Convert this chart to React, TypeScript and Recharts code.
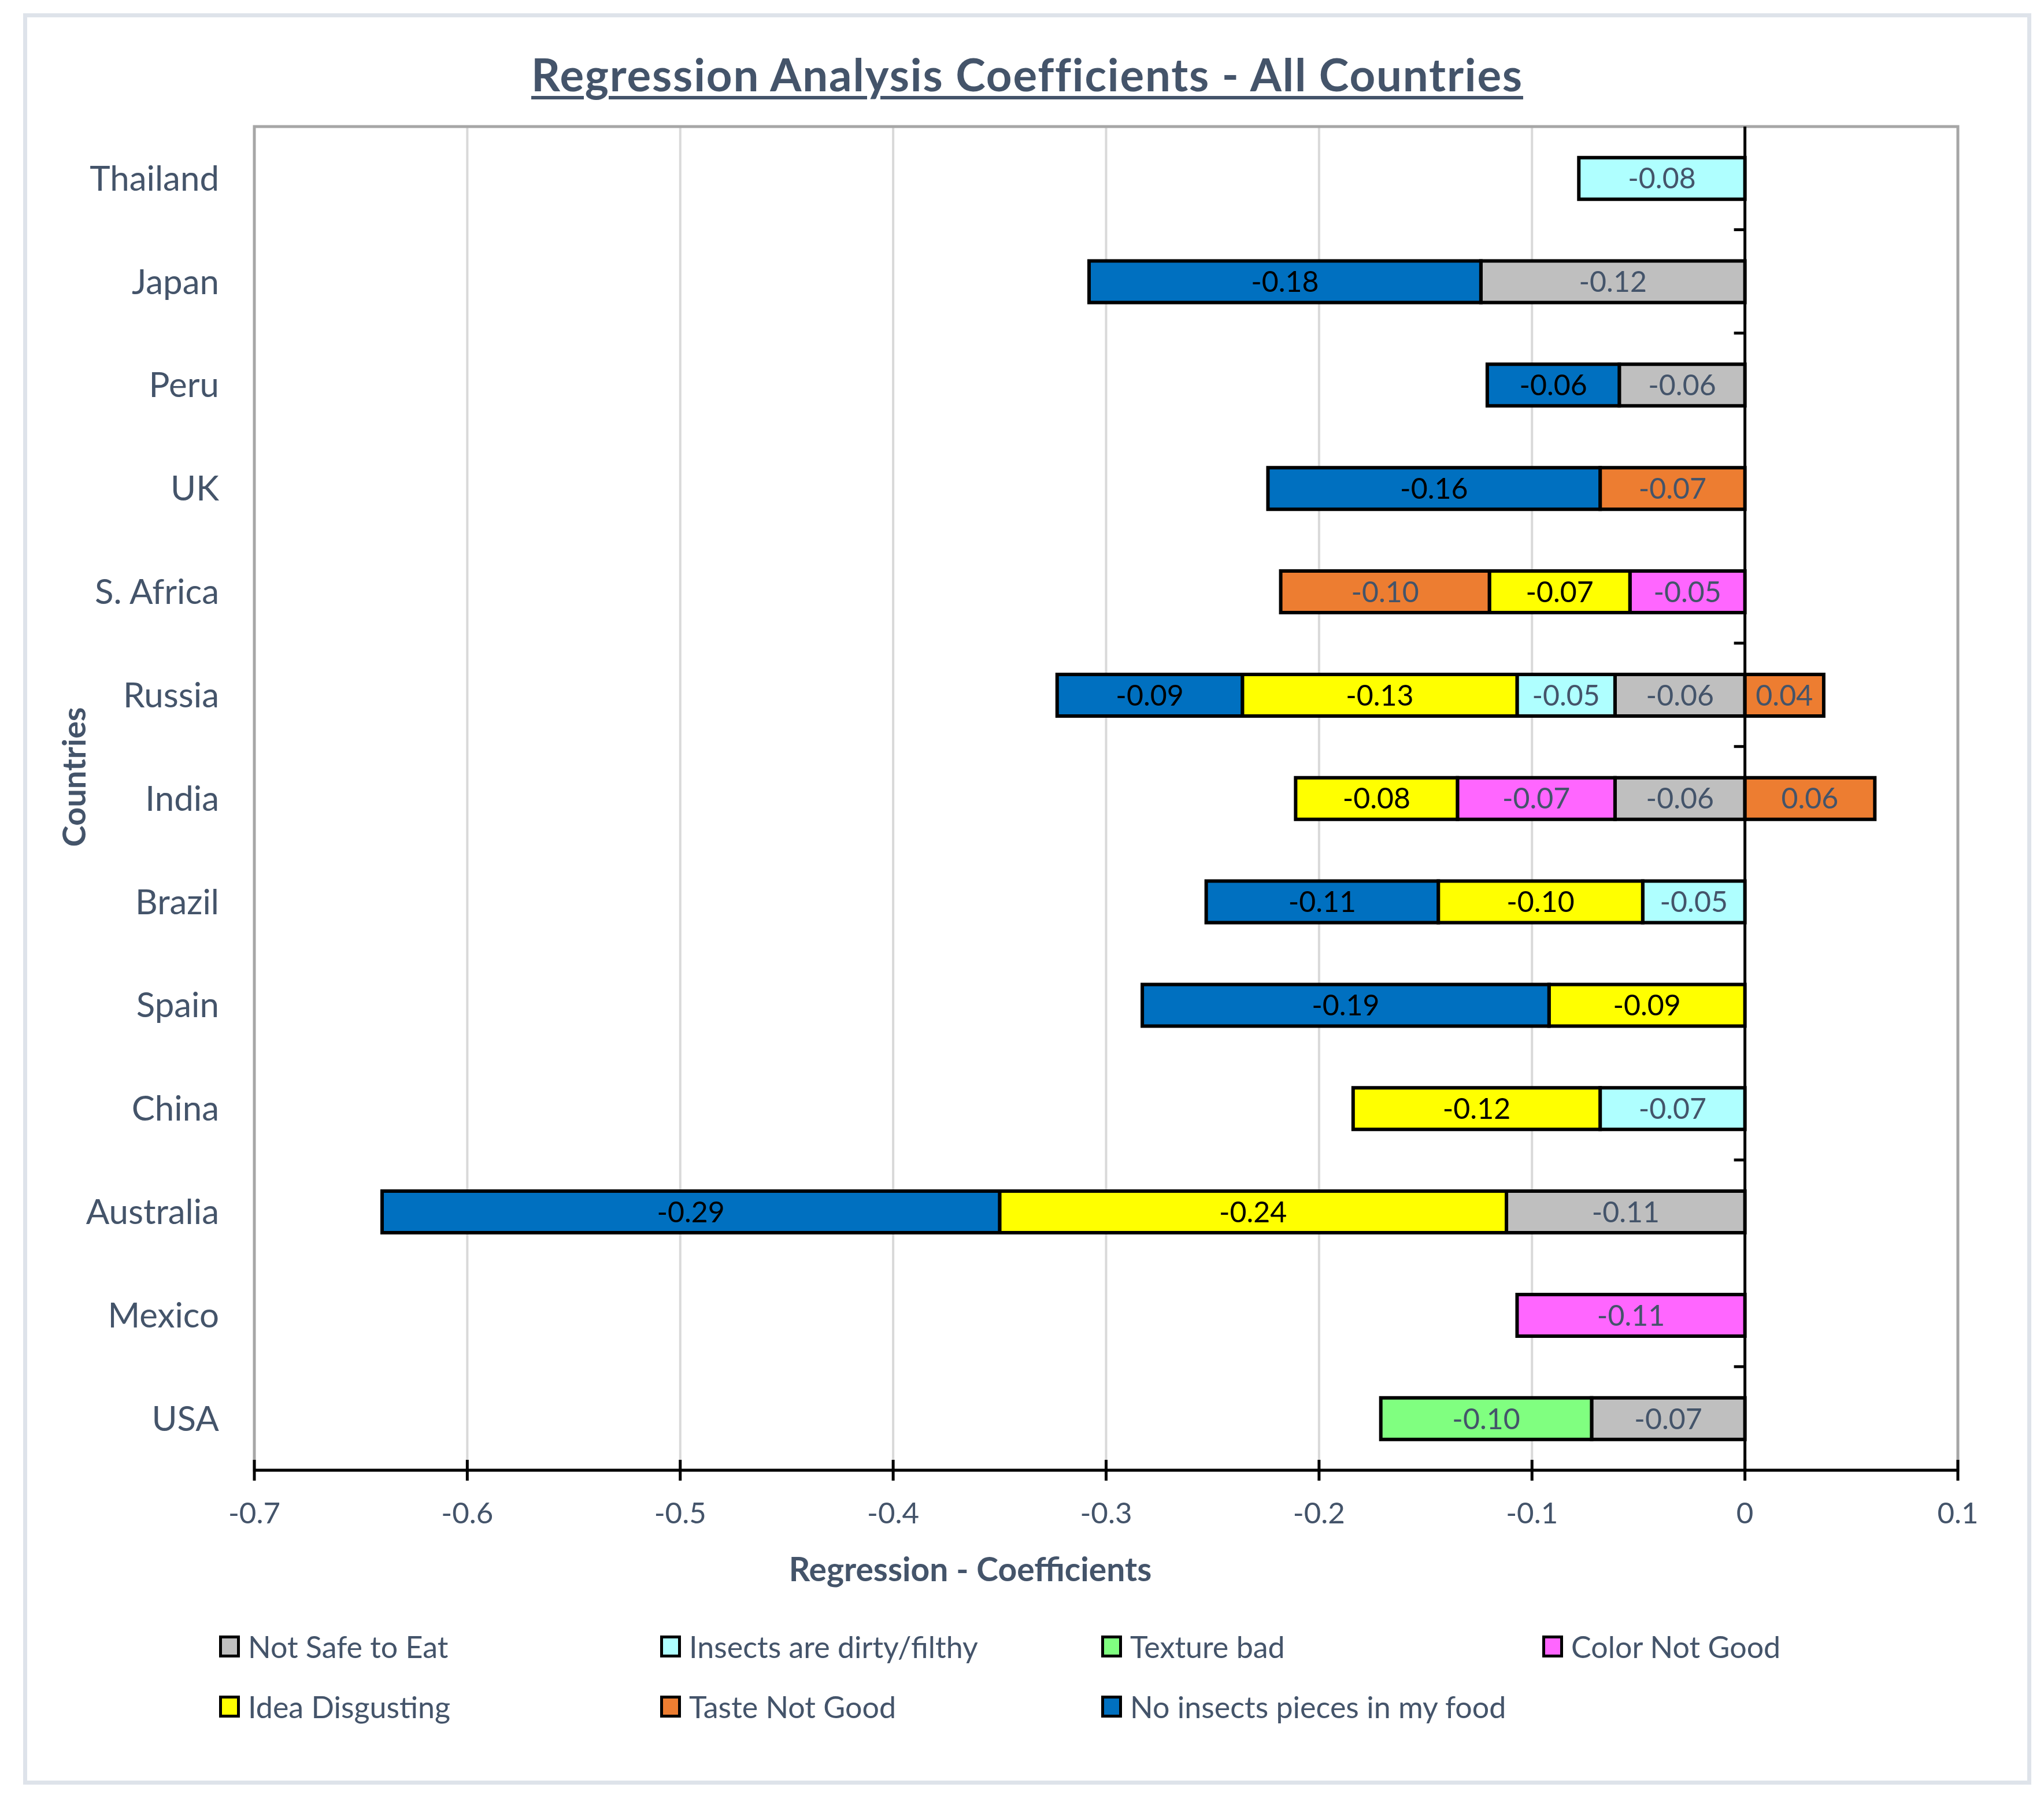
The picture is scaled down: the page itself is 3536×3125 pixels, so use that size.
import React from 'react';
import { BarChart, Bar, XAxis, YAxis, CartesianGrid, ReferenceLine, ReferenceArea, LabelList, Legend, Label } from 'recharts';

// ---- data ----
const countries = ['Thailand', 'Japan', 'Peru', 'UK', 'S. Africa', 'Russia', 'India', 'Brazil', 'Spain', 'China', 'Australia', 'Mexico', 'USA'];
const notSafeToEat = [null, -0.124, -0.059, null, null, -0.061, -0.061, null, null, null, -0.112, null, -0.072];
const insectsDirty = [-0.078, null, null, null, null, -0.046, null, -0.048, null, -0.068, null, null, null];
const textureBad = [null, null, null, null, null, null, null, null, null, null, null, null, -0.099];
const colorNotGood = [null, null, null, null, -0.054, null, -0.074, null, null, null, null, -0.107, null];
const ideaDisgusting = [null, null, null, null, -0.066, -0.129, -0.076, -0.096, -0.092, -0.116, -0.238, null, null];
const tasteNotGood = [null, null, null, -0.068, -0.098, 0.037, 0.061, null, null, null, null, null, null];
const noInsectsPieces = [null, -0.184, -0.062, -0.156, null, -0.087, null, -0.109, -0.191, null, -0.29, null, null];
const seriesNames = ['Not Safe to Eat', 'Insects are dirty/filthy', 'Texture bad', 'Color Not Good', 'Idea Disgusting', 'Taste Not Good', 'No insects pieces in my food'];
const xTicks = [-0.7, -0.6, -0.5, -0.4, -0.3, -0.2, -0.1, 0, 0.1];
const X_MIN = -0.7;
const X_MAX = 0.1;

const seriesValues = [notSafeToEat, insectsDirty, textureBad, colorNotGood, ideaDisgusting, tasteNotGood, noInsectsPieces];
const seriesKeys = ['notSafe', 'dirty', 'texture', 'color', 'idea', 'taste', 'noInsects'];

// ---- styles ----
const FILLS = ['#BFBFBF', '#AFFFFF', '#80FF80', '#FF66FF', '#FFFF00', '#ED7D31', '#0070C0'];
const LABEL_COLORS = ['#44546A', '#44546A', '#44546A', '#44546A', '#000000', '#44546A', '#000000'];
const TEXT = '#44546A';
const FONT = 'Lato, Carlito, "Open Sans", sans-serif';
const GAP = 0.3;
const TICK_SIZE = 18;
const TICK_MARGIN = 38;

const data = countries.map((c, i) => {
  const row: Record<string, any> = { country: c };
  seriesKeys.forEach((k, s) => {
    row[k] = seriesValues[s][i];
  });
  return row;
});

const fmt = (v: any) => (v == null || v === 0 || isNaN(Number(v)) ? '' : Number(v).toFixed(2));

const XTick = (props: any) => {
  const { x, y, payload } = props;
  const axisY = y - TICK_MARGIN - TICK_SIZE;
  return (
    <g>
      <line x1={x} x2={x} y1={axisY - TICK_SIZE} y2={axisY + TICK_SIZE} stroke="#000" strokeWidth={5} />
      <text x={x} y={y} dy="0.71em" textAnchor="middle" fill={TEXT} fontSize={51} fontFamily={FONT}>
        {String(payload.value)}
      </text>
    </g>
  );
};

// tick marks on the zero line at category boundaries
const ZeroTicks = (props: any) => {
  const { x, y, width, height, index } = props;
  if (x == null || width == null) return <g />;
  const zx = x + (width * (0 - X_MIN)) / (X_MAX - X_MIN);
  const band = height / (1 - 2 * GAP);
  const cy = y + height / 2;
  const top = cy - band / 2;
  const bottom = cy + band / 2;
  return (
    <g key={`zt-${index}`}>
      <line x1={zx - 19} x2={zx} y1={top} y2={top} stroke="#000" strokeWidth={5} />
      {index === countries.length - 1 && <line x1={zx - 19} x2={zx} y1={bottom} y2={bottom} stroke="#000" strokeWidth={5} />}
    </g>
  );
};

const CountriesLabel = (props: any) => {
  const vb = props.viewBox || { x: 0, y: 219, width: 440, height: 2325 };
  const cx = vb.x + 148;
  const cy = vb.y + vb.height / 2 - 37;
  return (
    <text x={cx} y={cy} transform={`rotate(-90 ${cx} ${cy})`} textAnchor="middle" fill={TEXT} fontSize={56} fontWeight={700} fontFamily={FONT}>
      Countries
    </text>
  );
};

const XTitle = (props: any) => {
  const vb = props.viewBox || { x: 440, y: 2544, width: 2947, height: 100 };
  const cx = vb.x + vb.width / 2 - 235;
  const by = vb.y + 192;
  return (
    <text x={cx} y={by} textAnchor="middle" fill={TEXT} fontSize={57} fontWeight={700} fontFamily={FONT}>
      Regression - Coefficients
    </text>
  );
};

const LegendContent = (props: any) => {
  const payload = [...(props.payload || [])].sort((a: any, b: any) => seriesNames.indexOf(a.value) - seriesNames.indexOf(b.value));
  return (
    <div style={{ display: 'grid', gridTemplateColumns: 'repeat(4, 763px)', gridAutoRows: '104px', paddingLeft: 379, fontFamily: FONT }}>
      {payload.map((p: any, i: number) => (
        <div key={i} style={{ display: 'flex', alignItems: 'center' }}>
          <div style={{ width: 36, height: 38, boxSizing: 'border-box', border: '5px solid #000', background: p.color }} />
          <span style={{ marginLeft: 14, fontSize: 52, lineHeight: 1, color: TEXT, whiteSpace: 'nowrap' }}>{p.value}</span>
        </div>
      ))}
    </div>
  );
};

export default function App() {
  return (
    <div style={{ position: 'absolute', left: 0, top: 0, width: 3536, height: 3125, background: '#fff', overflow: 'hidden' }}>
      <div style={{ position: 'absolute', left: 40, top: 23, width: 3474, height: 3065, boxSizing: 'border-box', border: '7px solid #DEE3EA' }} />
      <div
        style={{
          position: 'absolute',
          left: 0,
          top: 89,
          width: 3554,
          textAlign: 'center',
          fontFamily: FONT,
          fontWeight: 700,
          fontSize: 78,
          letterSpacing: '1.8px',
          lineHeight: 1,
          color: TEXT,
          textDecoration: 'underline',
          textDecorationThickness: '6px',
          textUnderlineOffset: '8px',
          whiteSpace: 'nowrap',
        }}
      >
        Regression Analysis Coefficients - All Countries
      </div>
      <div style={{ position: 'absolute', left: 0, top: 0 }}>
        <BarChart
          width={3536}
          height={3125}
          data={data}
          layout="vertical"
          stackOffset="sign"
          barCategoryGap={`${GAP * 100}%`}
          margin={{ top: 219, right: 149, bottom: 481, left: 0 }}
          style={{ fontFamily: FONT }}
        >
          <CartesianGrid horizontal={false} vertical stroke="#D9D9D9" strokeWidth={4} />
          <ReferenceArea x1={X_MIN} x2={X_MAX} fill="none" fillOpacity={0} stroke="#A6A6A6" strokeWidth={5} />
          <XAxis
            type="number"
            domain={[X_MIN, X_MAX]}
            ticks={xTicks}
            interval={0}
            allowDataOverflow
            height={100}
            tickSize={TICK_SIZE}
            tickMargin={TICK_MARGIN}
            tickLine={false}
            axisLine={{ stroke: '#000', strokeWidth: 5 }}
            tick={<XTick />}
          >
            <Label content={<XTitle />} />
          </XAxis>
          <YAxis
            type="category"
            dataKey="country"
            width={440}
            interval={0}
            tickSize={0}
            tickMargin={61}
            tickLine={false}
            axisLine={false}
            tick={{ fill: TEXT, fontSize: 60, fontFamily: FONT }}
          >
            <Label content={<CountriesLabel />} />
          </YAxis>
          {seriesKeys.map((k, s) => (
            <Bar
              key={k}
              dataKey={k}
              name={seriesNames[s]}
              stackId="a"
              fill={FILLS[s]}
              stroke="#000"
              strokeWidth={6}
              isAnimationActive={false}
              background={s === 0 ? (p: any) => <ZeroTicks {...p} /> : undefined}
            >
              <LabelList dataKey={k} position="center" formatter={fmt} fill={LABEL_COLORS[s]} fontSize={50} fontFamily={FONT} />
            </Bar>
          ))}
          <ReferenceLine x={0} stroke="#000" strokeWidth={5} />
          <Legend
            layout="horizontal"
            verticalAlign="middle"
            align="center"
            itemSorter={null as any}
            content={<LegendContent />}
            wrapperStyle={{ position: 'absolute', left: 0, top: 2797, width: 3536, height: 220 }}
          />
        </BarChart>
      </div>
    </div>
  );
}
